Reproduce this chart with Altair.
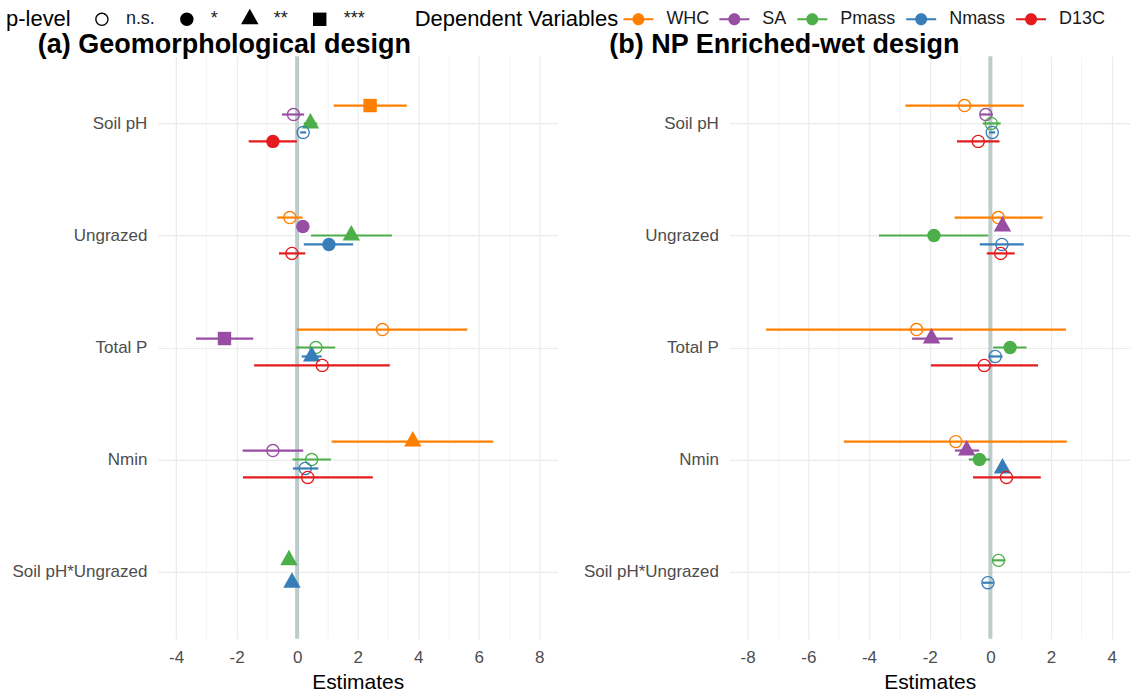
import json
import altair as alt
import pandas as pd

# ---------------- data ----------------
terms = ["Soil pH", "Ungrazed", "Total P", "Nmin", "Soil pH*Ungrazed"]
variables = ["WHC", "SA", "Pmass", "Nmass", "D13C"]
var_colors = ["#FF7F00", "#984EA3", "#4DAF4A", "#377EB8", "#E41A1C"]
p_levels = ["n.s.", "*", "**", "***"]

# (a) Geomorphological design
a_term = ["Soil pH"] * 5 + ["Ungrazed"] * 5 + ["Total P"] * 5 + ["Nmin"] * 5 + ["Soil pH*Ungrazed"] * 2
a_var = variables * 4 + ["Pmass", "Nmass"]
a_est = [2.41, -0.12, 0.44, 0.20, -0.80,
         -0.24, 0.19, 1.79, 1.05, -0.17,
         2.82, -2.40, 0.62, 0.48, 0.83,
         3.82, -0.80, 0.48, 0.27, 0.35,
         -0.27, -0.17]
a_lo = [1.21, -0.50, 0.22, 0.10, -1.60,
        -0.66, 0.05, 0.46, 0.22, -0.60,
        -0.01, -3.34, -0.03, 0.15, -1.42,
        1.14, -1.80, -0.15, -0.14, -1.79,
        -0.40, -0.30]
a_hi = [3.62, 0.23, 0.66, 0.30, -0.01,
        0.18, 0.33, 3.13, 1.85, 0.27,
        5.62, -1.45, 1.26, 0.81, 3.06,
        6.48, 0.20, 1.12, 0.70, 2.50,
        -0.14, -0.04]
a_p = ["***", "n.s.", "**", "n.s.", "*",
       "n.s.", "*", "**", "*", "n.s.",
       "n.s.", "***", "n.s.", "**", "n.s.",
       "**", "n.s.", "n.s.", "n.s.", "n.s.",
       "**", "**"]

# (b) NP Enriched-wet design
b_term = a_term
b_var = a_var
b_est = [-0.85, -0.15, 0.03, 0.06, -0.40,
         0.26, 0.40, -1.86, 0.38, 0.34,
         -2.43, -1.94, 0.65, 0.16, -0.20,
         -1.14, -0.78, -0.36, 0.40, 0.53,
         0.27, -0.08]
b_lo = [-2.80, -0.34, -0.25, -0.04, -1.10,
        -1.18, 0.25, -3.67, -0.35, -0.12,
        -7.39, -2.58, 0.09, -0.06, -1.96,
        -4.83, -1.17, -0.71, 0.25, -0.57,
        0.07, -0.26]
b_hi = [1.10, 0.08, 0.34, 0.16, 0.30,
        1.72, 0.55, -0.07, 1.10, 0.80,
        2.49, -1.24, 1.19, 0.40, 1.57,
        2.52, -0.37, -0.02, 0.55, 1.66,
        0.49, 0.11]
b_p = ["n.s.", "n.s.", "n.s.", "n.s.", "n.s.",
       "n.s.", "**", "*", "n.s.", "n.s.",
       "n.s.", "**", "*", "n.s.", "n.s.",
       "n.s.", "**", "*", "**", "n.s.",
       "n.s.", "n.s."]

a_xlim = [-4, 8]
b_xlim = [-8, 4]

DODGE = 0.4  # dodge width in category units


def build(term, var, est, lo, hi, p):
    df = pd.DataFrame(dict(term=term, variable=var, est=est, lo=lo, hi=hi, p=p))
    df["t"] = df["term"].map({t: i for i, t in enumerate(terms)})
    df["k"] = df.groupby("term").cumcount()
    df["n"] = df.groupby("term")["term"].transform("size")
    df["ypos"] = df["t"] + (df["k"] - (df["n"] - 1) / 2) * DODGE / df["n"]
    df["hex"] = df["variable"].map(dict(zip(variables, var_colors)))
    return df


df_a = build(a_term, a_var, a_est, a_lo, a_hi, a_p)
df_b = build(b_term, b_var, b_est, b_lo, b_hi, b_p)

# ---------------- styling ----------------
FONT = "Liberation Sans"
GRID = "#EBEBEB"

ring_path = ("M-1,0A1,1,0,1,1,1,0A1,1,0,1,1,-1,0Z "
             "M-0.8,0A0.8,0.8,0,1,0,0.8,0A0.8,0.8,0,1,0,-0.8,0Z")
tri_path = "M0,-1.57L1.3,0.75L-1.3,0.75Z"
# legend key: line with a dot (both drawn clockwise so the overlap stays filled)
key_path = ("M-2.12,-0.15L2.12,-0.15L2.12,0.15L-2.12,0.15Z "
            "M-0.85,0A0.85,0.85,0,1,1,0.85,0A0.85,0.85,0,1,1,-0.85,0Z")

color_scale = alt.Scale(domain=variables, range=var_colors)
shape_scale = alt.Scale(domain=p_levels, range=[ring_path, "circle", tri_path, "square"])

color_legend = alt.Legend(
    title="Dependent Variables", orient="none", legendX=257, legendY=-46,
    direction="horizontal", titleOrient="left", titleFontSize=22, titleLimit=400,
    titleFontWeight="normal", titleColor="black", titlePadding=11,
    labelFontSize=18, labelColor="#1a1a1a", symbolType=key_path,
    symbolSize=200, symbolStrokeWidth=0, labelOffset=19, columnPadding=10,
)
p_legend = alt.Legend(
    title="p-level", orient="none", legendX=-152, legendY=-46,
    direction="horizontal", titleOrient="left", titleFontSize=22, titleLimit=200,
    titleFontWeight="normal", titleColor="black", titlePadding=22,
    labelFontSize=18, labelColor="#1a1a1a", symbolFillColor="black",
    symbolStrokeWidth=0, symbolSize=180, labelOffset=15, columnPadding=22,
)

label_js = json.dumps(terms)
yaxis = alt.Axis(
    values=list(range(len(terms))),
    labelExpr=f"{label_js}[datum.value]",
    title=None, ticks=False, domain=False, grid=True, gridColor=GRID,
    gridWidth=1.2, labelFontSize=17, labelColor="#4D4D4D", labelPadding=11,
)
y_enc = alt.Y("ypos:Q", scale=alt.Scale(domain=[-0.6, len(terms) - 0.4], reverse=True,
                                         nice=False, zero=False), axis=yaxis)


def panel(df, title, xlim, width):
    pad = 0.05 * (xlim[1] - xlim[0])
    xscale = alt.Scale(domain=[xlim[0] - pad, xlim[1] + pad], nice=False, zero=False)
    xaxis = alt.Axis(
        values=list(range(xlim[0], xlim[1] + 1)),
        labelExpr="datum.value % 2 == 0 ? '' + datum.value : ''",
        title="Estimates", titleFontSize=21, titleFontWeight="normal",
        titleColor="black", titlePadding=6, ticks=False, domain=False,
        grid=True, gridColor=GRID,
        gridWidth={"condition": {"test": "datum.value % 2 != 0", "value": 0.6}, "value": 1.2},
        labelFontSize=17, labelColor="#4D4D4D", labelPadding=11,
    )
    zero = alt.Chart(pd.DataFrame({"x0": [0]})).mark_rule(
        color="#BCCBCB", strokeWidth=4
    ).encode(x=alt.X("x0:Q", scale=xscale, axis=xaxis))
    base = alt.Chart(df)
    bars = base.mark_rule(strokeWidth=2.2).encode(
        x=alt.X("lo:Q", scale=xscale, axis=xaxis),
        x2="hi:Q",
        y=y_enc,
        stroke=alt.Stroke("hex:N", scale=None),
    )
    pts = base.mark_point(filled=True, opacity=1, size=180).encode(
        x=alt.X("est:Q", scale=xscale, axis=xaxis),
        y=y_enc,
        color=alt.Color("variable:N", scale=color_scale, legend=color_legend),
        shape=alt.Shape("p:N", scale=shape_scale, legend=p_legend),
    )
    return alt.layer(zero, bars, pts).properties(
        width=width, height=583,
        title=alt.TitleParams(title, anchor="start", frame="bounds", dx=26,
                              offset=-5, fontSize=27, fontWeight="bold", color="black"),
    )


pa = panel(df_a, "(a) Geomorphological design", a_xlim, 400)
pb = panel(df_b, "(b) NP Enriched-wet design", b_xlim, 401)

chart = (
    alt.hconcat(pa, pb, spacing=25)
    .resolve_scale(x="independent")
    .configure(font=FONT, padding={"left": 6, "top": 10, "right": 5, "bottom": 0},
               background="white")
    .configure_view(stroke=None)
)

chart.save("out.html", embed_options={"renderer": "svg", "actions": False})
